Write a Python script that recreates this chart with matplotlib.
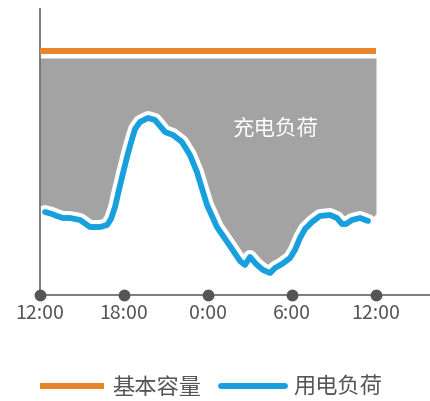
import matplotlib
matplotlib.use("Agg")
import matplotlib.pyplot as plt
import numpy as np

plt.rcParams['font.family'] = ['Noto Sans CJK SC', 'DejaVu Sans']

# ---- data ----
tick_hours = [0, 6, 12, 18, 24]
tick_labels = ['12:00', '18:00', '0:00', '6:00', '12:00']

# load curve (hours from 12:00, relative load)
load_hours = [0.36, 0.86, 1.21, 1.64, 2.14, 2.86, 3.57, 4.29, 4.79, 5.07, 5.36,
              5.57, 5.93, 6.29, 6.57, 6.79, 7.14, 7.71, 8.21, 8.57, 8.93, 9.5,
              10.14, 10.71, 11.21, 11.93, 12.64, 13.57, 14.29, 14.64, 15.0,
              15.43, 15.93, 16.43, 16.79, 17.29, 17.86, 18.21, 18.57, 18.93,
              19.43, 20.0, 20.71, 21.21, 21.57, 21.86, 22.29, 22.86, 23.43]
load_values = [83, 81, 79, 77, 77, 75, 68, 68, 70, 76, 88,
               101, 122, 142, 156, 166, 173, 177, 175, 169, 163, 160,
               153, 140, 123, 90, 68, 49, 34, 30, 38,
               31, 25, 22, 27, 31, 37, 45, 57, 66,
               73, 79, 80, 77, 71, 71, 75, 77, 74]
capacity = 244        # 基本容量
charge_top = 237      # upper edge of charge area
charge_label_pos = (16.86, 167)

# ---- style ----
ORANGE = '#E8852A'
BLUE = '#18A0DE'
GREY = '#A3A3A3'
AXIS = '#666666'
TEXT = '#555555'
GAP = 7

fig = plt.figure(figsize=(4.31, 4.01), dpi=100)
ax = fig.add_axes([40/431, 106/401, 391/431, 286/401])
ax.set_xlim(0, 391/14)
ax.set_ylim(0, 286)

h = np.array(load_hours)
v = np.array(load_values)
fx = np.concatenate([[0], h, [24]])
fy = np.concatenate([[v[0] + GAP], v, [v[-1] + GAP]])
ax.fill_between(fx, fy, charge_top, color=GREY, lw=0, zorder=1)

ax.plot([0, 24], [capacity, capacity], color=ORANGE, lw=4.3,
        solid_capstyle='butt', zorder=3, label='基本容量')
ax.plot(h, v, color='white', lw=10, solid_capstyle='round',
        solid_joinstyle='round', zorder=2)
ax.plot(h, v, color=BLUE, lw=4.2, solid_capstyle='round',
        solid_joinstyle='round', zorder=3, label='用电负荷')

ax.text(charge_label_pos[0], charge_label_pos[1], '充电负荷', color='white',
        fontsize=15.5, ha='center', va='center', zorder=4)

for s in ['top', 'right']:
    ax.spines[s].set_visible(False)
for s in ['left', 'bottom']:
    ax.spines[s].set_color(AXIS)
    ax.spines[s].set_linewidth(1.2)
ax.set_yticks([])
ax.set_xticks(tick_hours)
ax.set_xticklabels(tick_labels, fontsize=14, color=TEXT)
ax.tick_params(axis='x', length=0, pad=6)
ax.plot(tick_hours, [0]*len(tick_hours), 'o', color='#555555', ms=7.5,
        clip_on=False, zorder=5)

leg = fig.legend(loc='center', bbox_to_anchor=(211/431, 1 - 387/401), ncol=2,
                 frameon=False, fontsize=16, handlelength=2.9,
                 handletextpad=0.35, columnspacing=0.9)
for t in leg.get_texts():
    t.set_color(TEXT)
for line in leg.get_lines():
    line.set_linewidth(4.3)

fig.savefig('out.png', dpi=100)
